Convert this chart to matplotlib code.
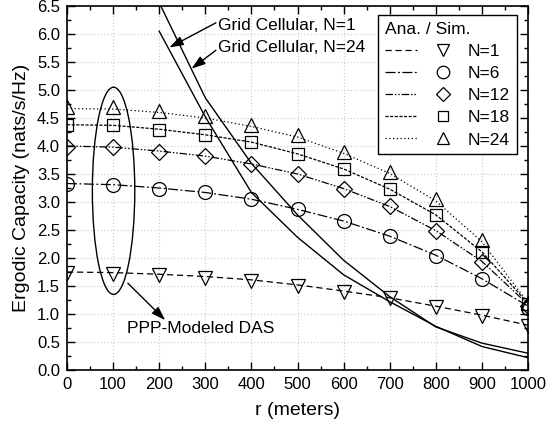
import numpy as np
import matplotlib
matplotlib.use("Agg")
import matplotlib.pyplot as plt
from matplotlib.patches import Ellipse
from matplotlib.legend_handler import HandlerTuple

plt.rcParams['font.family'] = ['Liberation Sans', 'DejaVu Sans']

r = [0, 100, 200, 300, 400, 500, 600, 700, 800, 900, 1000]

# DAS, analytical
ana_n1 = [1.75, 1.74, 1.71, 1.67, 1.61, 1.52, 1.41, 1.29, 1.14, 0.98, 0.80]
ana_n6 = [3.33, 3.31, 3.25, 3.17, 3.05, 2.87, 2.66, 2.39, 2.05, 1.63, 1.14]
ana_n12 = [4.00, 3.98, 3.91, 3.82, 3.68, 3.50, 3.24, 2.92, 2.49, 1.94, 1.17]
ana_n18 = [4.38, 4.37, 4.30, 4.20, 4.07, 3.86, 3.59, 3.23, 2.77, 2.11, 1.19]
ana_n24 = [4.67, 4.66, 4.60, 4.50, 4.35, 4.16, 3.87, 3.51, 3.02, 2.29, 1.20]

# DAS, simulation
sim_n1 = [1.74, 1.72, 1.69, 1.65, 1.59, 1.50, 1.39, 1.28, 1.12, 0.96, 0.79]
sim_n6 = [3.32, 3.30, 3.24, 3.17, 3.05, 2.87, 2.66, 2.39, 2.04, 1.63, 1.10]
sim_n12 = [3.99, 3.98, 3.90, 3.82, 3.68, 3.50, 3.23, 2.92, 2.49, 1.93, 1.14]
sim_n18 = [4.38, 4.38, 4.29, 4.20, 4.07, 3.86, 3.59, 3.23, 2.77, 2.11, 1.17]
sim_n24 = [4.69, 4.69, 4.62, 4.53, 4.38, 4.19, 3.90, 3.54, 3.05, 2.32, 1.20]

# grid cellular
r_cell = [200, 300, 400, 500, 600, 700, 800, 900, 1000]
cell_n1 = [6.05, 4.52, 3.17, 2.37, 1.70, 1.22, 0.78, 0.42, 0.22]
cell_n24 = [6.56, 4.86, 3.69, 2.77, 1.96, 1.31, 0.77, 0.48, 0.30]

labels = ['N=1', 'N=6', 'N=12', 'N=18', 'N=24']
markers = ['v', 'o', 'D', 's', '^']
msizes = [10, 10, 8, 8, 10]
dashes = [(5, 3), (8, 2, 1.5, 2), (6, 1.5, 1.2, 1.5, 1.2, 1.5), (2.5, 1.2), (1, 2)]

fig = plt.figure(figsize=(5.57, 4.30), dpi=100)
ax = fig.add_axes([0.1203, 0.1395, 0.8277, 0.8465])

ana = [ana_n1, ana_n6, ana_n12, ana_n18, ana_n24]
sim = [sim_n1, sim_n6, sim_n12, sim_n18, sim_n24]
handles = []
for a, s, m, ms, d, lab in zip(ana, sim, markers, msizes, dashes, labels):
    ln, = ax.plot(r, a, color='black', lw=0.9, dashes=d)
    mk, = ax.plot(r, s, ls='none', marker=m, ms=ms, mfc='none', mec='black', mew=0.9)
    handles.append((ln, mk))

ax.plot(r_cell, cell_n1, color='black', lw=1.0)
ax.plot(r_cell, cell_n24, color='black', lw=1.0)

# ellipse around r = 100
ax.add_patch(Ellipse((101, 3.2), 92, 3.7, fill=False, ec='black', lw=1.0))

arrow = dict(arrowstyle='-|>,head_length=0.6,head_width=0.2', color='black', lw=1.0,
             mutation_scale=14, shrinkA=0, shrinkB=0)
ax.annotate('', xy=(222, 5.76), xytext=(323, 6.2), arrowprops=arrow)
ax.annotate('', xy=(270, 5.38), xytext=(323, 5.71), arrowprops=arrow)
ax.text(328, 6.16, 'Grid Cellular, N=1', fontsize=12.5, va='center')
ax.text(328, 5.76, 'Grid Cellular, N=24', fontsize=12.5, va='center')
ax.annotate('', xy=(213, 0.89), xytext=(132, 1.55), arrowprops=arrow)
ax.text(130, 0.75, 'PPP-Modeled DAS', fontsize=12.5, va='center')

ax.set_xlim(0, 1000)
ax.set_ylim(0, 6.5)
ax.set_xticks(np.arange(0, 1001, 100))
ax.set_xticks(np.arange(0, 1001, 50), minor=True)
ax.set_yticks(np.arange(0, 6.51, 0.5))
ax.set_yticks(np.arange(0, 6.51, 0.25), minor=True)
ax.yaxis.set_major_formatter(matplotlib.ticker.FormatStrFormatter('%.1f'))
ax.tick_params(which='both', direction='in', top=True, right=True, labelsize=12, width=1.0)
ax.tick_params(which='major', length=6, pad=5)
ax.tick_params(which='minor', length=3)
for sp in ax.spines.values():
    sp.set_linewidth(1.2)
ax.grid(True, which='major', color='#c8c8c8', lw=0.8, ls=(0, (1, 2)))
ax.set_axisbelow(True)

ax.set_xlabel('r (meters)', fontsize=14, labelpad=7)
ax.set_ylabel('Ergodic Capacity (nats/s/Hz)', fontsize=14, labelpad=5)

leg = ax.legend(handles, labels, title='Ana. / Sim.', loc='upper right',
                bbox_to_anchor=(0.976, 0.975), fontsize=12.5, title_fontsize=12.5,
                handler_map={tuple: HandlerTuple(ndivide=None, pad=0.6)},
                handlelength=4.3, handletextpad=0.5, labelspacing=0.4,
                borderpad=0.4, fancybox=False, framealpha=1, edgecolor='black',
                alignment='left', borderaxespad=0, markerscale=0.9)
leg.get_frame().set_linewidth(1.0)

fig.savefig('out.png', dpi=100)
